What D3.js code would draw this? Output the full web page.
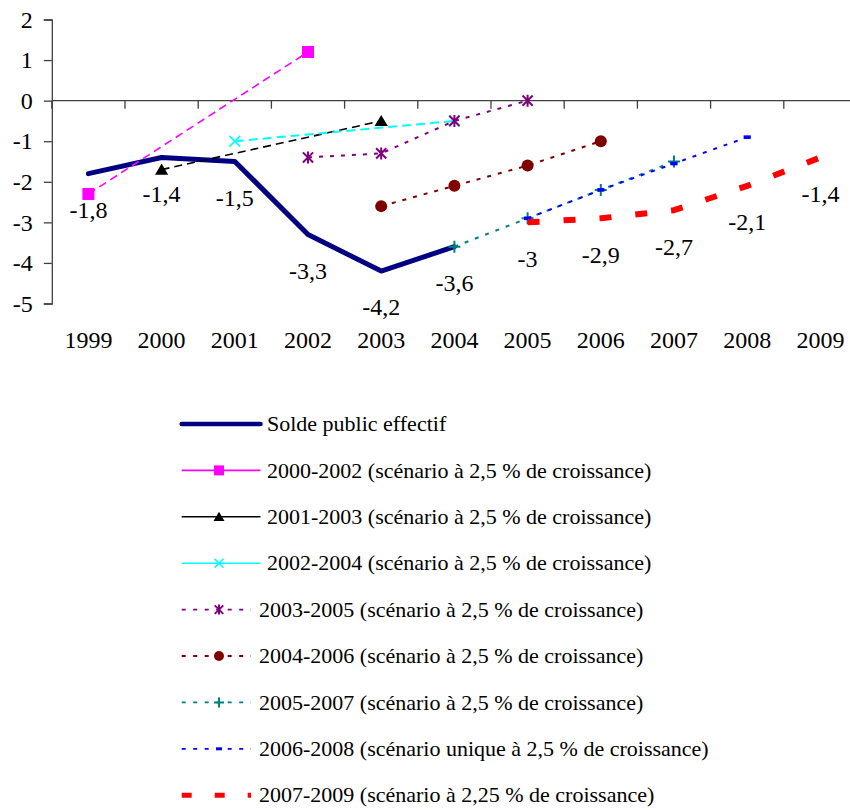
<!DOCTYPE html>
<html>
<head>
<meta charset="utf-8">
<script src="https://cdn.jsdelivr.net/npm/d3@7"></script>
<style>
  body { margin: 0; background: #fff; }
  svg text { font-family: "Liberation Serif", "Times New Roman", Times, "DejaVu Serif", serif; }
</style>
</head>
<body>
<svg width="850" height="810"></svg>
<script>
// categories
var years = ["1999", "2000", "2001", "2002", "2003", "2004", "2005", "2006", "2007", "2008", "2009"];
var yTicks = [2, 1, 0, -1, -2, -3, -4, -5];
var yTickLabels = ["2", "1", "0", "-1", "-2", "-3", "-4", "-5"];

// series values (null = no point that year)
var soldeEffectif = [-1.8, -1.4, -1.5, -3.3, -4.2, -3.6, null, null, null, null, null];
var scen2000 = [-2.3, null, null, 1.2, null, null, null, null, null, null, null];
var scen2001 = [null, -1.7, null, null, -0.5, null, null, null, null, null, null];
var scen2002 = [null, null, -1.0, null, null, -0.5, null, null, null, null, null];
var scen2003 = [null, null, null, -1.4, -1.3, -0.5, 0, null, null, null, null];
var scen2004 = [null, null, null, null, -2.6, -2.1, -1.6, -1.0, null, null, null];
var scen2005 = [null, null, null, null, null, -3.6, -2.9, -2.2, -1.5, null, null];
var scen2006 = [null, null, null, null, null, null, -2.9, -2.2, -1.55, -0.9, null];
var scen2007 = [null, null, null, null, null, null, -3, -2.9, -2.7, -2.1, -1.4];

var seriesNames = [
    "Solde public effectif",
    "2000-2002 (scénario à 2,5 % de croissance)",
    "2001-2003 (scénario à 2,5 % de croissance)",
    "2002-2004 (scénario à 2,5 % de croissance)",
    "2003-2005 (scénario à 2,5 % de croissance)",
    "2004-2006 (scénario à 2,5 % de croissance)",
    "2005-2007 (scénario à 2,5 % de croissance)",
    "2006-2008 (scénario unique à 2,5 % de croissance)",
    "2007-2009 (scénario à 2,25 % de croissance)"
];

// styles
var series = [
    { values: soldeEffectif, color: "#000080", width: 5, dash: null, marker: null, labels: true },
    { values: scen2000, color: "#FF00FF", width: 1.6, dash: "8,5", marker: "square" },
    { values: scen2001, color: "#000000", width: 1.6, dash: "8,5", marker: "triangle" },
    { values: scen2002, color: "#00FFFF", width: 2, dash: "9,5", marker: "x" },
    { values: scen2003, color: "#800080", width: 2, dash: "4,7", marker: "star" },
    { values: scen2004, color: "#800000", width: 2, dash: "4,7", marker: "circle" },
    { values: scen2005, color: "#008080", width: 2, dash: "4,7", marker: "plus" },
    { values: scen2006, color: "#0000FF", width: 2, dash: "4,7", marker: "dash" },
    { values: scen2007, color: "#FF0000", width: 6, dash: "12,24", marker: null, labels: true }
];
series.forEach(function (s, i) { s.name = seriesNames[i]; });

var serif = "'Liberation Serif', 'Times New Roman', 'DejaVu Serif', serif";
var svg = d3.select("svg");

var x = d3.scaleBand()
    .domain(years)
    .range([51.8, 857])
    .padding(0);

var y = d3.scaleLinear()
    .domain([-5, 2])
    .range([303.5, 19.5]);

function cx(i) { return x(years[i]) + x.bandwidth() / 2; }

var axisColor = "#404040";

// y axis
var yAxis = svg.append("g")
    .attr("transform", "translate(51.8,0)")
    .call(d3.axisLeft(y)
        .tickValues(yTicks)
        .tickSize(8)
        .tickPadding(11)
        .tickFormat(function (d, i) { return yTickLabels[i]; }));
yAxis.attr("font-family", serif);
yAxis.select(".domain").attr("stroke", axisColor).attr("stroke-width", 1.3);
yAxis.selectAll(".tick line").attr("stroke", axisColor).attr("stroke-width", 1.3);
yAxis.selectAll(".tick text")
    .attr("font-size", 24)
    .attr("fill", "#000");

// x axis line at zero, ticks on category boundaries
svg.append("line")
    .attr("x1", 51.8).attr("x2", 857)
    .attr("y1", y(0)).attr("y2", y(0))
    .attr("stroke", axisColor).attr("stroke-width", 1.3);

svg.selectAll(".xtick")
    .data(years)
    .enter().append("line")
    .attr("class", "xtick")
    .attr("x1", function (d) { return x(d); })
    .attr("x2", function (d) { return x(d); })
    .attr("y1", y(0))
    .attr("y2", y(0) + 8)
    .attr("stroke", axisColor).attr("stroke-width", 1.3);

// category labels at the bottom
svg.selectAll(".xlabel")
    .data(years)
    .enter().append("text")
    .attr("class", "xlabel")
    .attr("x", function (d) { return x(d) + x.bandwidth() / 2; })
    .attr("y", 348)
    .attr("text-anchor", "middle")
    .attr("font-family", serif)
    .attr("font-size", 24)
    .text(function (d) { return d; });

// markers
function drawMarker(g, type, px, py, color, sz) {
    var h = sz / 2;
    if (type === "square") {
        g.append("rect").attr("x", px - h).attr("y", py - h)
            .attr("width", sz).attr("height", sz).attr("fill", color);
    } else if (type === "triangle") {
        g.append("path")
            .attr("d", "M" + px + "," + (py - h) + "L" + (px + h * 1.1) + "," + (py + h * 0.85) +
                "L" + (px - h * 1.1) + "," + (py + h * 0.85) + "Z")
            .attr("fill", color);
    } else if (type === "x") {
        var k = h * 0.9;
        g.append("path")
            .attr("d", "M" + (px - k) + "," + (py - k) + "L" + (px + k) + "," + (py + k) +
                "M" + (px - k) + "," + (py + k) + "L" + (px + k) + "," + (py - k))
            .attr("stroke", color).attr("stroke-width", 1.6).attr("fill", "none");
    } else if (type === "star") {
        var k2 = h * 0.85;
        g.append("path")
            .attr("d", "M" + (px - k2) + "," + (py - k2) + "L" + (px + k2) + "," + (py + k2) +
                "M" + (px - k2) + "," + (py + k2) + "L" + (px + k2) + "," + (py - k2) +
                "M" + px + "," + (py - h) + "L" + px + "," + (py + h))
            .attr("stroke", color).attr("stroke-width", 2).attr("fill", "none");
    } else if (type === "circle") {
        g.append("circle").attr("cx", px).attr("cy", py).attr("r", h).attr("fill", color);
    } else if (type === "plus") {
        g.append("path")
            .attr("d", "M" + (px - h) + "," + py + "L" + (px + h) + "," + py +
                "M" + px + "," + (py - h) + "L" + px + "," + (py + h))
            .attr("stroke", color).attr("stroke-width", 2).attr("fill", "none");
    } else if (type === "dash") {
        g.append("rect").attr("x", px - sz * 0.3).attr("y", py - sz * 0.15)
            .attr("width", sz * 0.6).attr("height", sz * 0.3).attr("fill", color);
    }
}

var line = d3.line()
    .x(function (d) { return cx(d.i); })
    .y(function (d) { return y(d.v); });

var plot = svg.append("g");

series.forEach(function (s) {
    var pts = s.values
        .map(function (v, i) { return { i: i, v: v }; })
        .filter(function (d) { return d.v !== null; });

    var g = plot.append("g");
    g.append("path")
        .datum(pts)
        .attr("d", line)
        .attr("fill", "none")
        .attr("stroke", s.color)
        .attr("stroke-width", s.width)
        .attr("stroke-dasharray", s.dash)
        .attr("stroke-linejoin", "round")
        .attr("stroke-linecap", s.dash ? "butt" : "round");

    if (s.marker) {
        pts.forEach(function (d) {
            drawMarker(g, s.marker, cx(d.i), y(d.v), s.color, 12);
        });
    }

    if (s.labels) {
        g.selectAll(".lbl")
            .data(pts)
            .enter().append("text")
            .attr("x", function (d) { return cx(d.i); })
            .attr("y", function (d) { return y(d.v) + 36; })
            .attr("dy", "0.35em")
            .attr("text-anchor", "middle")
            .attr("font-family", serif)
            .attr("font-size", 24)
            .text(function (d) { return String(d.v).replace(".", ","); });
    }
});

// legend
var legY0 = 424, legStep = 46.4;
var legend = svg.append("g");
series.forEach(function (s, i) {
    var ly = legY0 + i * legStep;
    var x1 = 181.7;
    var x2 = i < 4 ? 260.5 : 251;
    var tx = i < 4 ? 267 : 259;
    var dash = null, w = 1.6;
    if (i === 0) { w = 4.5; }
    else if (i >= 4 && i < 8) { dash = "4,7.5"; w = 1.8; }
    else if (i === 8) { dash = "10,23"; w = 5; }
    legend.append("line")
        .attr("x1", x1).attr("x2", x2)
        .attr("y1", ly).attr("y2", ly)
        .attr("stroke", s.color)
        .attr("stroke-width", w)
        .attr("stroke-dasharray", dash)
        .attr("stroke-linecap", i === 0 ? "round" : "butt");
    if (s.marker) {
        drawMarker(legend, s.marker, 219, ly, s.color, 10);
    }
    legend.append("text")
        .attr("x", tx)
        .attr("y", ly)
        .attr("dy", "0.33em")
        .attr("font-family", serif)
        .attr("font-size", 22)
        .text(s.name);
});
</script>
</body>
</html>
